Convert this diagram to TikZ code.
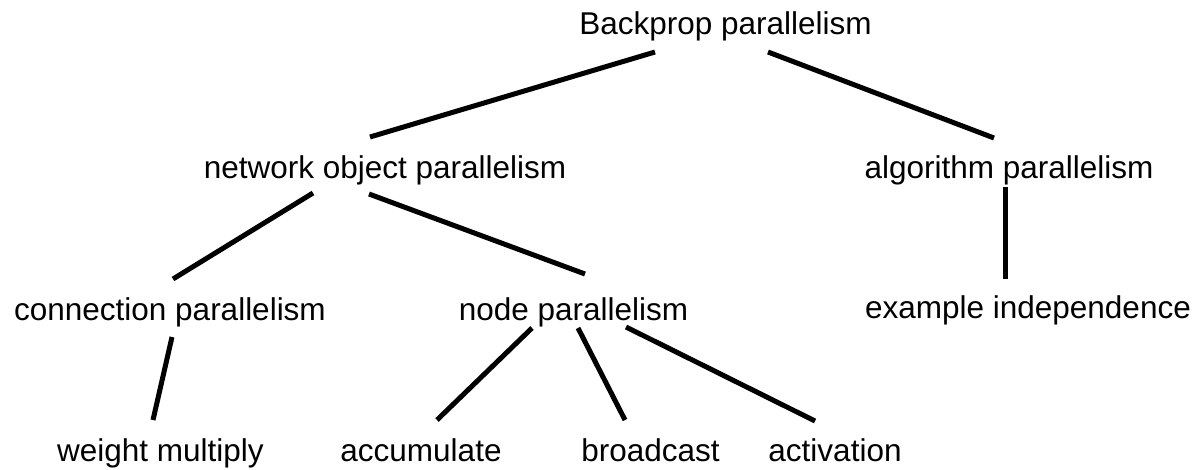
\documentclass[tikz,border=0pt]{standalone}
\usepackage{fontspec}
\setmainfont{Liberation Sans}

\begin{document}
\begin{tikzpicture}[x=1pt,y=1pt,node distance=141pt,line width=5pt,
    label node/.style={inner sep=0pt,font=\fontsize{31.5}{38}\selectfont,text height=23.6pt,text depth=7.9pt}]

  \useasboundingbox (0,0) rectangle (1199,-470);

  \node[label node] (root) at (725.5,-27.15) {Backprop parallelism};

  \node[label node] (netobj) [below of=root, xshift=-340.5pt, yshift=-3pt] {network object parallelism};
  \node[label node] (algo) [below of=root, xshift=283.5pt, yshift=-3pt] {algorithm parallelism};

  \node[label node] (conn) [below of=netobj, xshift=-215pt] {connection parallelism};
  \node[label node] (nodepar) [below of=netobj, xshift=188.5pt] {node parallelism};
  \node[label node] (example) [below of=algo, xshift=19pt, yshift=1pt] {example independence};

  \node[label node] (weight) [below of=conn, xshift=-9.5pt] {weight multiply};
  \node[label node] (accum) [below of=nodepar, xshift=-152.5pt] {accumulate};
  \node[label node] (bcast) [below of=nodepar, xshift=77pt] {broadcast};
  \node[label node] (activ) [below of=nodepar, xshift=261.5pt] {activation};

  \path
        ([shift={(-70.5,-17)}]root.base) edge ([shift={(-15,42)}]netobj.base)
        ([shift={(42.5,-17)}]root.base) edge ([shift={(-15,41)}]algo.base)
        ([shift={(-72,-14)}]netobj.base) edge ([shift={(3,41)}]conn.base)
        ([shift={(-16,-15)}]netobj.base) edge ([shift={(11.5,46)}]nodepar.base)
        ([shift={(-4,-8)}]algo.base) edge ([shift={(-23,40)}]example.base)
        ([shift={(2,-17)}]conn.base) edge ([shift={(-7.5,41)}]weight.base)
        ([shift={(-41.5,-8)}]nodepar.base) edge ([shift={(16,41)}]accum.base)
        ([shift={(4.5,-8)}]nodepar.base) edge ([shift={(-25.5,41)}]bcast.base)
        ([shift={(52.5,-7)}]nodepar.base) edge ([shift={(-20,40)}]activ.base)
        ;

\end{tikzpicture}
\end{document}
